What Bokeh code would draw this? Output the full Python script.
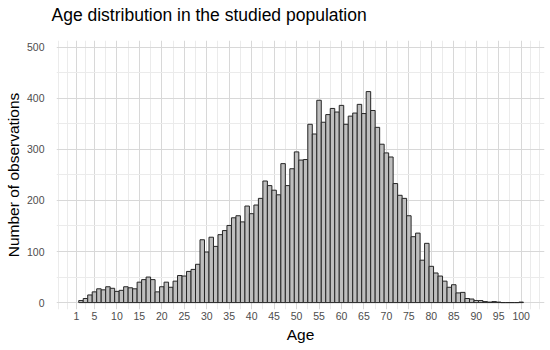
from bokeh.plotting import figure
from bokeh.models import FixedTicker, Range1d, Title
from bokeh.embed import file_html
from bokeh.resources import INLINE

ages = list(range(2, 101))
counts = [4, 8, 15, 21, 27, 25, 31, 28, 22, 24, 31, 29, 27, 40, 45, 50, 45, 21, 31,
          40, 30, 42, 53, 52, 61, 65, 75, 123, 99, 128, 110, 133, 141, 151, 166, 170,
          158, 189, 174, 191, 204, 238, 229, 220, 211, 272, 229, 262, 295, 279, 280,
          349, 330, 396, 353, 368, 380, 373, 386, 349, 365, 371, 388, 370, 413, 376,
          343, 310, 293, 285, 233, 210, 204, 170, 129, 136, 83, 116, 71, 58, 52, 42,
          30, 35, 19, 20, 8, 7, 4, 4, 2, 1, 2, 1, 0, 0, 0, 0, 1]

x_ticks = [1, 5, 10, 15, 20, 25, 30, 35, 40, 45, 50, 55, 60, 65, 70, 75, 80, 85, 90, 95, 100]
x_minor = [-3, -1, 3, 7.5, 12.5, 17.5, 22.5, 27.5, 32.5, 37.5, 42.5, 47.5, 52.5, 57.5,
           62.5, 67.5, 72.5, 77.5, 82.5, 87.5, 92.5, 97.5, 102, 104]
y_ticks = [0, 100, 200, 300, 400, 500]
y_minor = [50, 150, 250, 350, 450]

title_text = "Age distribution in the studied population"
x_label = "Age"
y_label = "Number of observations"

FONT = "Liberation Sans"

p = figure(frame_width=488, frame_height=269, output_backend="svg", toolbar_location=None,
           x_range=Range1d(-3.45, 105.2), y_range=Range1d(-13.5, 513),
           min_border_left=56, min_border_right=4, min_border_top=40, min_border_bottom=39)
p.outline_line_color = None
p.background_fill_color = "white"
p.border_fill_color = "white"

p.vbar(x=ages, top=counts, width=1, bottom=0, fill_color="#bebebe",
       line_color="#262626", line_width=1)

# grids
p.xgrid.ticker = FixedTicker(ticks=x_ticks, minor_ticks=x_minor)
p.ygrid.ticker = FixedTicker(ticks=y_ticks, minor_ticks=y_minor)
for g in (p.xgrid, p.ygrid):
    g.grid_line_color = "#d8d8d8"
    g.grid_line_width = 1
    g.minor_grid_line_color = "#ebebeb"
    g.minor_grid_line_width = 1
    g.level = "underlay"

# axes
p.xaxis.ticker = FixedTicker(ticks=x_ticks)
p.yaxis.ticker = FixedTicker(ticks=y_ticks)
for ax in (p.xaxis, p.yaxis):
    ax.axis_line_color = None
    ax.major_tick_line_color = None
    ax.minor_tick_line_color = None
    ax.major_tick_out = 0
    ax.major_tick_in = 0
    ax.minor_tick_out = 0
    ax.minor_tick_in = 0
    ax.major_label_text_font = FONT
    ax.major_label_text_font_size = "10.5px"
    ax.major_label_text_color = "#4d4d4d"
    ax.axis_label_text_font = FONT
    ax.axis_label_text_font_size = "15.5px"
    ax.axis_label_text_font_style = "normal"
    ax.axis_label_text_color = "black"
p.xaxis.axis_label = x_label
p.yaxis.axis_label = y_label
p.xaxis.major_label_standoff = 2
p.xaxis.axis_label_standoff = 3
p.yaxis.major_label_standoff = 12
p.yaxis.axis_label_standoff = 2

# title, with a thin spacer between it and the frame
p.title.text = ""
main_title = Title(text=title_text, text_font=FONT, text_font_size="17.5px",
                   text_font_style="normal", text_color="black", align="left",
                   offset=-5, standoff=0)
spacer = Title(text=" ", text_font=FONT, text_font_size="1px", standoff=13)
p.above = [spacer, main_title]

open("out.html", "w").write(file_html(p, INLINE))
